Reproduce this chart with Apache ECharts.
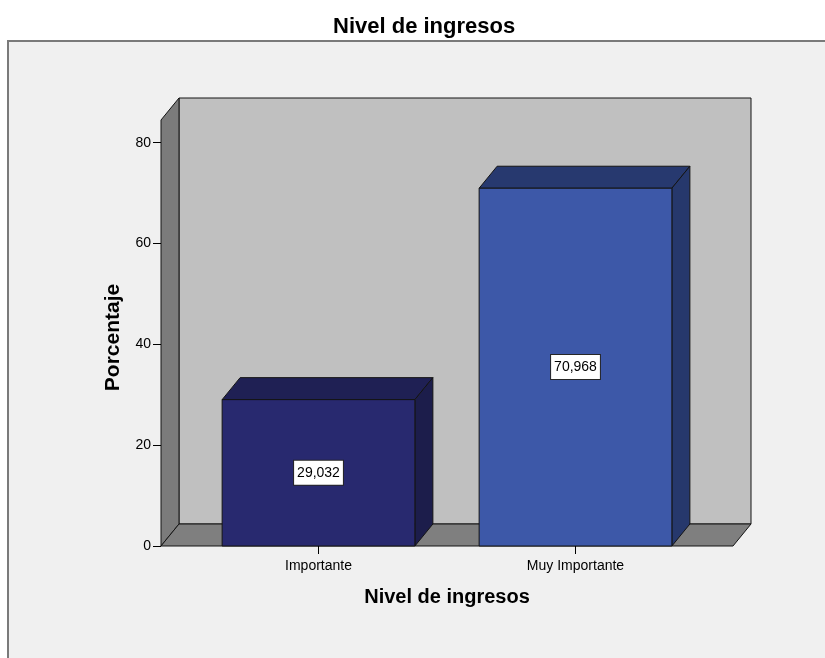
<!DOCTYPE html>
<html>
<head>
<meta charset="utf-8">
<title>Nivel de ingresos</title>
<script src="https://cdn.jsdelivr.net/npm/echarts@6/dist/echarts.min.js"></script>
<style>
  html, body { margin: 0; padding: 0; background: #ffffff; }
  #chart { width: 825px; height: 658px; }
</style>
</head>
<body>
<div id="chart"></div>
<script>
// Data
const categories = ['Importante', 'Muy Importante'];
const percentages = [29.032, 70.968];
const yTickValues = [0, 20, 40, 60, 80];
const yAxisMax = 84.5;

// 3D look: depth offset of walls and bars, and how far the walls reach past the bars
const DX = 18;
const DY = 22;
const WALL_PAD = 29;
const EDGE = '#141414';
const FONT = '"Liberation Sans", Arial, sans-serif';

const barPalette = [
  { front: '#28296f', top: '#1f2054', side: '#1c1d4b' },
  { front: '#3d58a8', top: '#27396f', side: '#26386c' }
];

function formatValue(v) {
  return v.toFixed(3).replace('.', ',');
}

function renderWalls(params, api) {
  const cs = params.coordSys;
  const L = cs.x - WALL_PAD;
  const R = cs.x + cs.width + WALL_PAD;
  const T = cs.y;
  const B = cs.y + cs.height;
  const st = (fill) => ({ fill: fill, stroke: EDGE, lineWidth: 1 });
  return {
    type: 'group',
    children: [
      { type: 'rect', shape: { x: L + DX, y: T - DY, width: R - L, height: B - T }, style: st('#c0c0c0') },
      { type: 'polygon', shape: { points: [[L, T], [L + DX, T - DY], [L + DX, B - DY], [L, B]] }, style: st('#7b7b7b') },
      { type: 'polygon', shape: { points: [[L, B], [L + DX, B - DY], [R + DX, B - DY], [R, B]] }, style: st('#7f7f7f') }
    ]
  };
}

function renderBar(params, api) {
  const idx = api.value(0);
  const val = api.value(1);
  const base = api.coord([idx, 0]);
  const top = api.coord([idx, val]);
  const w = api.size([1, 0])[0] * 0.75;
  const x0 = base[0] - w / 2;
  const x1 = base[0] + w / 2;
  const y0 = top[1];
  const y1 = base[1];
  const c = barPalette[idx];
  const st = (fill) => ({ fill: fill, stroke: EDGE, lineWidth: 1 });
  return {
    type: 'group',
    children: [
      { type: 'polygon', shape: { points: [[x0, y0], [x0 + DX, y0 - DY], [x1 + DX, y0 - DY], [x1, y0]] }, style: st(c.top) },
      { type: 'polygon', shape: { points: [[x1, y0], [x1 + DX, y0 - DY], [x1 + DX, y1 - DY], [x1, y1]] }, style: st(c.side) },
      { type: 'rect', shape: { x: x0, y: y0, width: w, height: y1 - y0 }, style: st(c.front) },
      {
        type: 'text',
        style: {
          text: formatValue(val),
          x: base[0],
          y: (y0 + y1) / 2,
          align: 'center',
          verticalAlign: 'middle',
          fill: '#000000',
          font: '14px ' + FONT,
          lineHeight: 15,
          backgroundColor: '#ffffff',
          borderColor: '#262626',
          borderWidth: 1,
          padding: [5, 3, 4, 3]
        }
      }
    ]
  };
}

const chart = echarts.init(document.getElementById('chart'), null, { renderer: 'canvas' });

chart.setOption({
  backgroundColor: '#ffffff',
  animation: false,
  title: {
    text: 'Nivel de ingresos',
    left: 333,
    top: 16,
    padding: 0,
    textStyle: { fontFamily: FONT, fontSize: 22, fontWeight: 'bold', color: '#000000' }
  },
  graphic: [
    {
      type: 'rect',
      z: -10,
      silent: true,
      shape: { x: 8, y: 41, width: 900, height: 700 },
      style: { fill: '#f0f0f0', stroke: '#7a7a7a', lineWidth: 2 }
    }
  ],
  grid: { left: 190, right: 121, top: 120, bottom: 112 },
  xAxis: {
    type: 'category',
    data: categories,
    name: 'Nivel de ingresos',
    nameLocation: 'middle',
    nameGap: 41,
    nameTextStyle: { fontFamily: FONT, fontSize: 20, fontWeight: 'bold', color: '#000000' },
    axisLine: { show: false },
    axisTick: { show: true, alignWithLabel: true, length: 8, lineStyle: { color: '#000000', width: 1 } },
    axisLabel: { margin: 13, fontFamily: FONT, fontSize: 14, color: '#000000' },
    splitLine: { show: false },
    z: 10
  },
  yAxis: {
    type: 'value',
    min: 0,
    max: yAxisMax,
    interval: 20,
    offset: WALL_PAD,
    name: 'Porcentaje',
    nameLocation: 'middle',
    nameGap: 37,
    nameRotate: 90,
    nameTextStyle: { fontFamily: FONT, fontSize: 21, fontWeight: 'bold', color: '#000000', padding: [0, 9, 0, 0] },
    axisLine: { show: false },
    axisTick: { show: true, length: 8, customValues: yTickValues, lineStyle: { color: '#000000', width: 1 } },
    axisLabel: { margin: 10, customValues: yTickValues, fontFamily: FONT, fontSize: 14, color: '#000000', padding: [8, 0, 0, 0] },
    splitLine: { show: false },
    z: 10
  },
  series: [
    {
      type: 'custom',
      name: 'walls',
      silent: true,
      z: 1,
      renderItem: renderWalls,
      data: [[0, 0]]
    },
    {
      type: 'custom',
      name: 'Porcentaje',
      z: 3,
      renderItem: renderBar,
      data: categories.map((c, i) => [i, percentages[i]])
    }
  ]
});
</script>
</body>
</html>
